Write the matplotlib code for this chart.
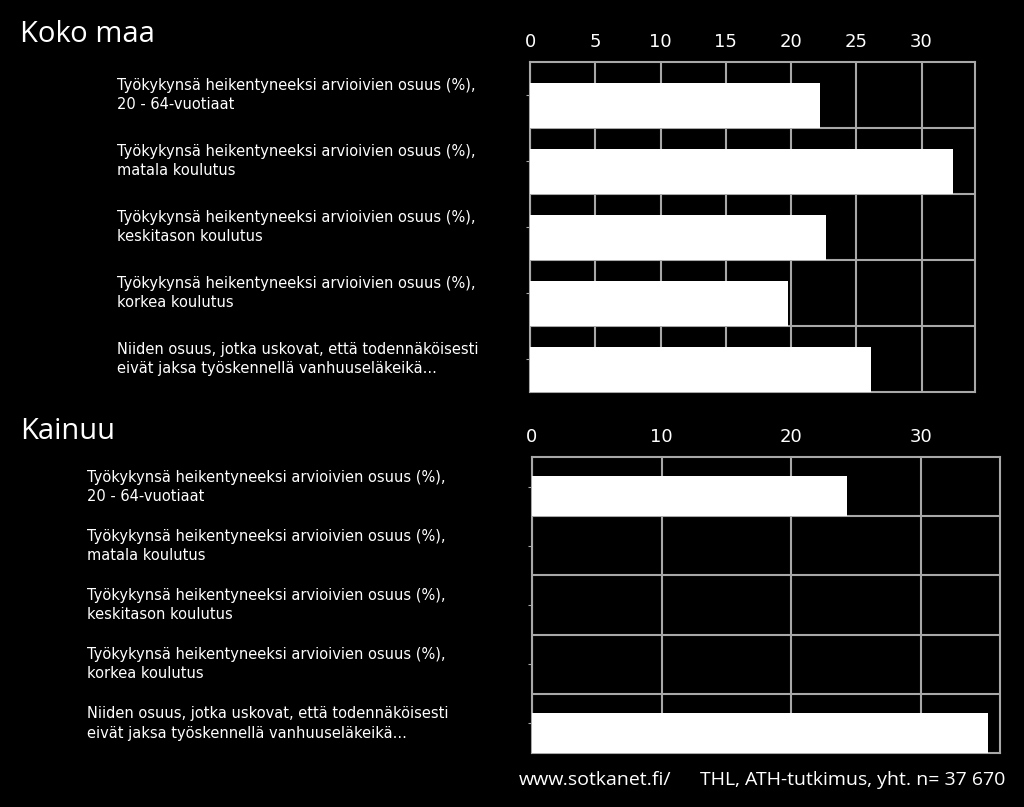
import matplotlib
matplotlib.use("Agg")
import matplotlib.pyplot as plt
from matplotlib import transforms

labels = [
    "Työkykynsä heikentyneeksi arvioivien osuus (%),\n20 - 64-vuotiaat",
    "Työkykynsä heikentyneeksi arvioivien osuus (%),\nmatala koulutus",
    "Työkykynsä heikentyneeksi arvioivien osuus (%),\nkeskitason koulutus",
    "Työkykynsä heikentyneeksi arvioivien osuus (%),\nkorkea koulutus",
    "Niiden osuus, jotka uskovat, että todennäköisesti\neivät jaksa työskennellä vanhuuseläkeikä...",
]
koko_maa = [22.2, 32.4, 22.7, 19.8, 26.1]
kainuu = [24.3, None, None, None, 35.2]
koko_ticks = [0, 5, 10, 15, 20, 25, 30]
kainuu_ticks = [0, 10, 20, 30]

GRID = "#a8a8a8"

fig = plt.figure(figsize=(10.24, 8.07), dpi=100, facecolor="black")


def panel(rect, values, ticks, xmax, label_x, title, title_y):
    ax = fig.add_axes(rect, facecolor="black")
    n = len(values)
    for i, v in enumerate(values):
        if v is not None:
            ax.barh(i + 0.16, v, height=0.67, color="white", zorder=3)
    ax.set_xlim(0, xmax)
    ax.set_ylim(n - 0.5, -0.5)
    ax.set_xticks(ticks)
    ax.xaxis.tick_top()
    ax.tick_params(axis="x", colors="white", labelsize=13, length=0, pad=8)
    ax.set_yticks(range(n))
    ax.set_yticklabels([])
    ax.tick_params(axis="y", color=GRID, length=3)
    for t in ticks:
        ax.axvline(t, color=GRID, lw=1.5, zorder=1)
    for i in range(n - 1):
        ax.axhline(i + 0.5, color=GRID, lw=1.5, zorder=1)
    for s in ax.spines.values():
        s.set_color(GRID)
        s.set_linewidth(1.5)
    trans = transforms.blended_transform_factory(fig.transFigure, ax.transData)
    for i, lab in enumerate(labels):
        ax.text(label_x, i, lab, transform=trans, ha="left", va="center",
                color="white", fontsize=10.5, linespacing=1.35)
    fig.text(0.02, title_y, title, color="white", fontsize=21,
             fontfamily="Open Sans", va="center")
    return ax


panel([0.5176, 0.5143, 0.4346, 0.4089], koko_maa, koko_ticks, 34.1,
      117 / 1024, "Koko maa", 1 - 35 / 807)
panel([0.5195, 0.0669, 0.457, 0.3668], kainuu, kainuu_ticks, 36.1,
      87 / 1024, "Kainuu", 1 - 432 / 807)

fig.text(1005 / 1024, 1 - 780 / 807, "THL, ATH-tutkimus, yht. n= 37 670",
         color="white", fontsize=14, fontfamily="Open Sans", ha="right", va="center")
fig.text(519 / 1024, 1 - 780 / 807, "www.sotkanet.fi/", color="white",
         fontsize=14, fontfamily="Open Sans", ha="left", va="center")

fig.savefig("out.png", dpi=100, facecolor="black")
